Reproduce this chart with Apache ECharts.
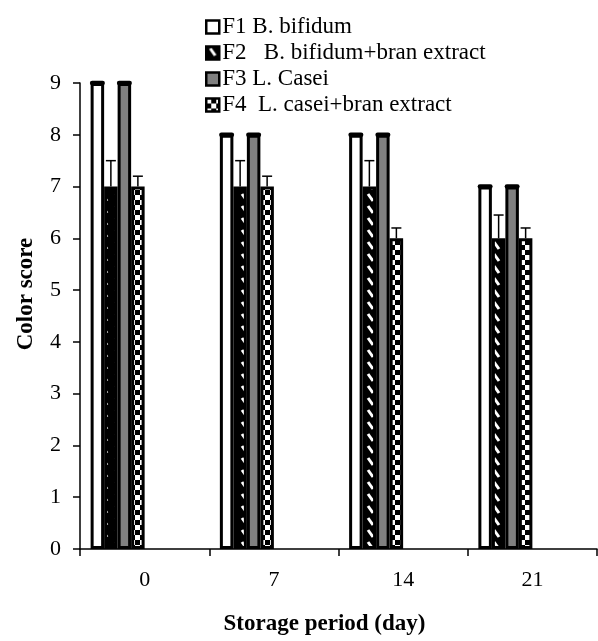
<!DOCTYPE html>
<html><head><meta charset="utf-8">
<script src="https://cdn.jsdelivr.net/npm/echarts@6/dist/echarts.min.js"></script>
<style>html,body{margin:0;padding:0;background:#fff}#c{width:598px;height:641px}</style>
</head><body><div id="c"></div>
<script>
// ---- data ----
const categories = ['0', '7', '14', '21'];
const seriesNames = ['F1 B. bifidum', 'F2   B. bifidum+bran extract', 'F3 L. Casei', 'F4  L. casei+bran extract'];
const f1 = [9, 8, 8, 7];
const f2 = [7, 7, 7, 6];
const f3 = [9, 8, 8, 7];
const f4 = [7, 7, 6, 6];
const f1Err = [0, 0, 0, 0];
const f2Err = [0.5, 0.5, 0.5, 0.45];
const f3Err = [0, 0, 0, 0];
const f4Err = [0.2, 0.2, 0.2, 0.2];
const yMin = 0, yMax = 9, yStep = 1;
const xTitle = 'Storage period (day)';
const yTitle = 'Color score';

// ---- patterns ----
function stripePattern() {
  const c = document.createElement('canvas'); c.width = 14; c.height = 12;
  const g = c.getContext('2d');
  g.fillStyle = '#000'; g.fillRect(0, 0, 14, 12);
  g.strokeStyle = '#fff'; g.lineWidth = 3; g.lineCap = 'butt';
  g.beginPath(); g.moveTo(4, 2); g.lineTo(9, 9); g.stroke();
  return c;
}
function checkerPattern() {
  const c = document.createElement('canvas'); c.width = 10; c.height = 10;
  const g = c.getContext('2d');
  g.fillStyle = '#000'; g.fillRect(0, 0, 10, 10);
  g.fillStyle = '#fff'; g.fillRect(0, 0, 5, 5); g.fillRect(5, 5, 5, 5);
  return c;
}

const FONT = 'Liberation Serif';
const BAR_W = 13.5;
const SLOTS = 8;
const fills = ['#ffffff', { image: stripePattern(), repeat: 'repeat' }, '#808080', { image: checkerPattern(), repeat: 'repeat' }];
const values = [f1, f2, f3, f4];
const errs = [f1Err, f2Err, f3Err, f4Err];

const series = [];
values.forEach((v, i) => {
  series.push({
    name: seriesNames[i], type: 'bar', data: v, barWidth: BAR_W, barGap: '0%',
    itemStyle: { color: fills[i], borderColor: '#000', borderWidth: 3 },
    emphasis: { disabled: true }, z: 2
  });
});
// empty slots (the original chart reserves room for four more series)
for (let k = 0; k < 4; k++) {
  series.push({ name: 'empty' + k, type: 'bar', data: categories.map(() => null), barWidth: BAR_W, barGap: '0%', silent: true });
}
// error bars
values.forEach((v, i) => {
  series.push({
    type: 'custom', silent: true, z: 5,
    data: v.map((val, j) => [j, val, errs[i][j]]),
    renderItem: function (params, api) {
      const cat = api.value(0), val = api.value(1), err = api.value(2);
      const c = api.coord([cat, val]);
      const x = c[0] - (SLOTS / 2) * BAR_W + (i + 0.5) * BAR_W;
      const yb = c[1];
      const yt = api.coord([cat, val + err])[1];
      if (err === 0) {
        const h = BAR_W / 2 - 1.5;
        return { type: 'line', shape: { x1: x - h, y1: yt, x2: x + h, y2: yt },
          style: { stroke: '#000', lineWidth: 4.5, lineCap: 'round' } };
      }
      const hw = 5;
      return { type: 'group', children: [
        { type: 'line', shape: { x1: x, y1: yb, x2: x, y2: yt }, style: { stroke: '#000', lineWidth: 1.5 } },
        { type: 'line', shape: { x1: x - hw, y1: yt, x2: x + hw, y2: yt }, style: { stroke: '#000', lineWidth: 1.5 } }
      ] };
    }
  });
});

const chart = echarts.init(document.getElementById('c'), null, { renderer: 'canvas' });
chart.setOption({
  animation: false,
  backgroundColor: '#fff',
  textStyle: { fontFamily: FONT, color: '#000' },
  grid: { left: 80, right: 1, top: 83, bottom: 88, containLabel: false },
  legend: {
    data: seriesNames, orient: 'vertical', left: 200, top: 9,
    itemWidth: 13, itemHeight: 13, itemGap: 0, selectedMode: false,
    icon: 'rect',
    itemStyle: { borderColor: '#000', borderWidth: 2.5 },
    textStyle: { fontFamily: FONT, fontSize: 23, color: '#000', lineHeight: 26, padding: [0, 0, 0, -2] }
  },
  xAxis: {
    type: 'category', data: categories,
    axisLine: { lineStyle: { color: '#000', width: 1.5 } },
    axisTick: { show: true, length: 7, lineStyle: { color: '#000', width: 1.5 } },
    axisLabel: { fontFamily: FONT, fontSize: 22, color: '#000', margin: 20 },
    name: xTitle, nameLocation: 'middle', nameGap: 64,
    nameTextStyle: { fontFamily: FONT, fontSize: 23, fontWeight: 'bold', color: '#000', padding: [0, 28, 0, 0] }
  },
  yAxis: {
    type: 'value', min: yMin, max: yMax, interval: yStep,
    axisLine: { show: true, lineStyle: { color: '#000', width: 1.5 } },
    axisTick: { show: true, length: 7, lineStyle: { color: '#000', width: 1.5 } },
    splitLine: { show: false },
    axisLabel: { fontFamily: FONT, fontSize: 22, color: '#000', margin: 19 },
    name: yTitle, nameLocation: 'middle', nameRotate: 90, nameGap: 42,
    nameTextStyle: { fontFamily: FONT, fontSize: 23, fontWeight: 'bold', color: '#000', padding: [0, 0, 0, 44] }
  },
  series: series
});
</script>
</body></html>
